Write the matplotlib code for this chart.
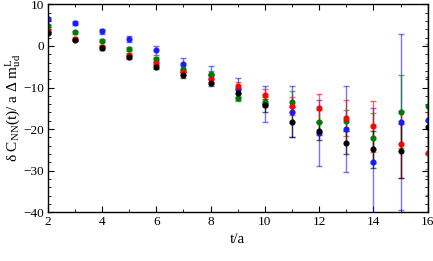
import matplotlib
matplotlib.use("Agg")
import matplotlib.pyplot as plt
from matplotlib.ticker import MultipleLocator
import numpy as np

t = [2, 3, 4, 5, 6, 7, 8, 9, 10, 11, 12, 13, 14, 15, 16]

blue = [6.5, 5.5, 3.6, 1.7, -1.0, -4.3, -6.9, -10.3, -14.0, -15.8, -20.9, -20.0, -27.9, -18.2, -17.7]
blue_err = [0.4, 0.5, 0.6, 0.8, 1.1, 1.5, 2.2, 2.6, 4.4, 6.1, 8.0, 10.4, 13.0, 21.2, 30.0]
green = [4.9, 3.3, 1.3, -0.8, -3.2, -5.5, -6.8, -12.4, -13.4, -13.4, -18.4, -18.0, -22.2, -15.8, -14.5]
green_err = [0.3, 0.3, 0.4, 0.5, 0.6, 0.7, 0.8, 0.8, 1.2, 2.5, 3.0, 2.5, 6.0, 8.8, 15.0]
red = [3.5, 1.8, -0.2, -2.2, -4.0, -6.3, -7.9, -9.6, -11.9, -14.4, -15.0, -17.3, -19.3, -23.7, -25.8]
red_err = [0.3, 0.3, 0.4, 0.4, 0.5, 0.6, 0.8, 1.0, 1.5, 2.2, 3.4, 4.3, 6.1, 8.0, 10.0]
black = [3.1, 1.5, -0.5, -2.6, -5.0, -7.0, -8.8, -11.2, -14.3, -18.2, -20.5, -23.3, -24.9, -25.3, -19.4]
black_err = [0.3, 0.3, 0.4, 0.5, 0.5, 0.7, 0.8, 1.0, 1.5, 3.6, 2.2, 2.8, 4.4, 6.5, 12.0]

plt.rcParams['font.family'] = ['Liberation Serif', 'DejaVu Serif']
plt.rcParams['mathtext.fontset'] = 'custom'
plt.rcParams['mathtext.rm'] = 'Liberation Serif'
plt.rcParams['mathtext.it'] = 'Liberation Serif:italic'

fig = plt.figure(figsize=(4.33, 2.61), dpi=100)
ax = fig.add_axes([0.110, 0.187, 0.878, 0.796])

series = [
    (blue, blue_err, '#1a1aff'),
    (green, green_err, '#007a00'),
    (red, red_err, '#ff0000'),
    (black, black_err, '#000000'),
]
for vals, errs, col in series:
    eb = ax.errorbar(t, vals, yerr=errs, fmt='o', color=col, ms=3.4,
                     mec=col, mfc=col, ecolor=col, elinewidth=1.0,
                     capsize=2.5, capthick=1.0)
    for line in eb[1]:
        line.set_alpha(0.6)
    for coll in eb[2]:
        coll.set_alpha(0.6)

ax.set_xlim(2, 16)
ax.set_ylim(-40, 10)
ax.xaxis.set_major_locator(MultipleLocator(2))
ax.xaxis.set_minor_locator(MultipleLocator(1))
ax.yaxis.set_major_locator(MultipleLocator(10))
ax.yaxis.set_minor_locator(MultipleLocator(2))
ax.tick_params(which='both', direction='in', top=True, right=True, labelsize=9.5, pad=2.5)
ax.tick_params(which='major', length=4, width=0.8)
ax.tick_params(which='minor', length=2, width=0.6)
for s in ax.spines.values():
    s.set_linewidth(1.0)

ax.set_xlabel('t/a', fontsize=11, labelpad=4)
ax.set_ylabel(r'δ C$_{\mathrm{NN}}$(t)/ a Δ m$_{\mathrm{ud}}^{\mathrm{L}}$', fontsize=11)
ax.yaxis.set_label_coords(-0.066, 0.5)

fig.savefig('out.png', dpi=100)
